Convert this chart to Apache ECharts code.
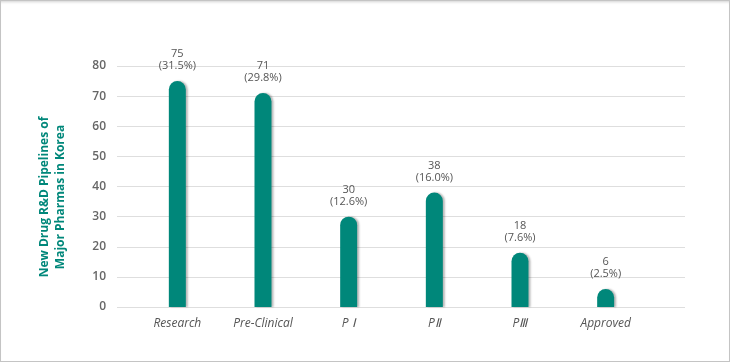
<!DOCTYPE html>
<html><head><meta charset="utf-8">
<script src="https://cdn.jsdelivr.net/npm/echarts@6/dist/echarts.min.js"></script>
<style>
html,body{margin:0;padding:0;background:#fff;}
#wrap{position:relative;width:730px;height:362px;}
#chart{position:absolute;left:0;top:0;width:730px;height:362px;}
#frame{position:absolute;left:0;top:0;width:730px;height:362px;box-sizing:border-box;border:1px solid #c4c4c4;box-shadow:inset 0 3px 3px -2px rgba(0,0,0,0.18);pointer-events:none;}
</style></head>
<body><div id="wrap"><div id="chart"></div><div id="frame"></div></div>
<script>
const categories = ['Research', 'Pre-Clinical', 'P\u2160', 'P\u2161', 'P\u2162', 'Approved'];
const categoryLabels = ['Research', 'Pre-Clinical', 'P \u2160', 'P\u2161', 'P\u2162', 'Approved'];
const values = [75, 71, 30, 38, 18, 6];
const percents = ['31.5%', '29.8%', '12.6%', '16.0%', '7.6%', '2.5%'];
const yTicks = [0, 10, 20, 30, 40, 50, 60, 70, 80];
const yTitle = 'New Drug R&D Pipelines of\nMajor Pharmas in Korea';

const teal = '#00877a';
const chart = echarts.init(document.getElementById('chart'), null, {renderer: 'canvas'});
chart.setOption({
  animation: false,
  grid: [
    {left: 117, right: 45, top: 66, bottom: 55},
    {left: 134.5, right: 81.5, top: 66, bottom: 55}
  ],
  xAxis: [
    {gridIndex: 0, type: 'value', min: 0, max: 1, show: false},
    {gridIndex: 1, type: 'category', data: categoryLabels,
     axisLine: {show: false}, axisTick: {show: false},
     axisLabel: {color: '#555', fontSize: 12, fontStyle: 'italic', fontFamily: 'Open Sans', margin: 11}}
  ],
  yAxis: [
    {gridIndex: 0, type: 'value', min: yTicks[0], max: yTicks[yTicks.length-1], interval: 10,
     axisLine: {show: false}, axisTick: {show: false},
     splitLine: {lineStyle: {color: '#dedede', width: 1}},
     axisLabel: {color: '#666', fontSize: 12, fontWeight: 600, fontFamily: 'Open Sans', margin: 11}},
    {gridIndex: 1, type: 'value', min: yTicks[0], max: yTicks[yTicks.length-1], interval: 10, show: false}
  ],
  graphic: [
    {type: 'text', x: 53, y: 197, rotation: Math.PI/2, style: {
      text: yTitle, fill: teal, font: 'bold 12px "Open Sans"', align: 'center', verticalAlign: 'middle', lineHeight: 16}}
  ],
  series: [{
    type: 'bar', xAxisIndex: 1, yAxisIndex: 1,
    data: values, barWidth: 17,
    itemStyle: {color: teal, borderRadius: [9, 9, 0, 0], shadowColor: 'rgba(0,0,0,0.28)', shadowOffsetX: 2, shadowOffsetY: 0, shadowBlur: 2},
    label: {show: true, position: 'top', distance: 9, color: '#555', fontSize: 11, fontFamily: 'Open Sans', lineHeight: 12,
      formatter: p => p.value + '\n(' + percents[p.dataIndex] + ')'}
  }]
});
</script></body></html>
